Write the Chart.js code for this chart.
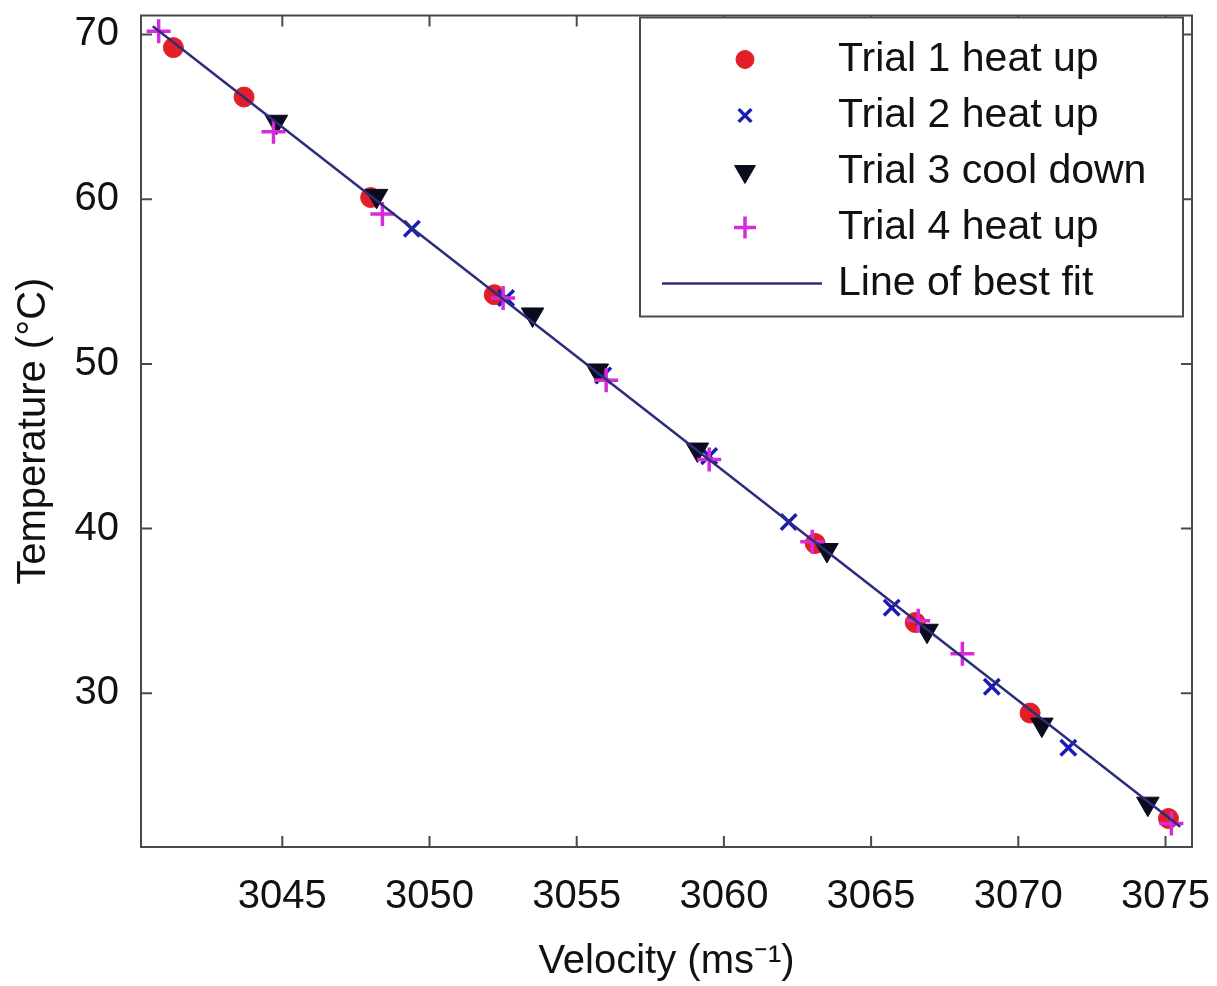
<!DOCTYPE html>
<html>
<head>
<meta charset="utf-8">
<title>Temperature vs velocity</title>
<script src="https://cdn.jsdelivr.net/npm/chart.js@4.4.1/dist/chart.umd.min.js"></script>
<style>
  body { margin: 0; background: #fff; }
  #wrap { position: relative; width: 1217px; height: 986px; }
</style>
</head>
<body>
<div id="wrap"><canvas id="my-chart" width="1217" height="986"></canvas></div>
<script>
'use strict';

// Data
let trial1Velocity = [3041.3, 3043.7, 3048.0, 3052.2, 3063.1, 3066.5, 3070.4, 3075.1];
let trial1Temp = [69.2, 66.2, 60.1, 54.2, 39.1, 34.3, 28.8, 22.4];

let trial2Velocity = [3049.4, 3052.6, 3055.9, 3059.5, 3062.2, 3065.7, 3069.1, 3071.7];
let trial2Temp = [58.2, 54.0, 49.3, 44.4, 40.4, 35.2, 30.4, 26.7];

let trial3Velocity = [3044.8, 3048.2, 3053.5, 3055.7, 3059.1, 3063.5, 3066.9, 3070.8, 3074.4];
let trial3Temp = [64.7, 60.2, 53.0, 49.6, 44.8, 38.7, 33.8, 28.1, 23.3];

let trial4Velocity = [3040.8, 3044.7, 3048.4, 3052.5, 3056.0, 3059.5, 3063.0, 3066.6, 3068.1, 3075.2];
let trial4Temp = [70.2, 64.1, 59.1, 54.0, 49.0, 44.2, 39.2, 34.4, 32.4, 22.1];

// line of best fit end points
let fitVelocity = [3040.6, 3075.5];
let fitTemp = [70.5, 21.9];

// axis ticks
let xTicks = [3045, 3050, 3055, 3060, 3065, 3070, 3075];
let yTicks = [30, 40, 50, 60, 70];

const FONT = 'Liberation Sans, Arial, Helvetica, sans-serif';
const AXIS_COLOR = '#4a4a4a';
const TEXT_COLOR = '#111111';

function toPoints(xs, ys) {
  let pts = [];
  for (let i = 0; i < xs.length; i++) {
    pts.push({x: xs[i], y: ys[i]});
  }
  return pts;
}

// no extra room for labels that hang past the plot box
function noPadding(scale) {
  scale.paddingTop = 0;
  scale.paddingBottom = 0;
  scale.paddingLeft = 0;
  scale.paddingRight = 0;
}

let ctx = document.getElementById('my-chart');

// datasets - lower order is drawn on top
let datasets = [
  {
    label: 'Trial 1 heat up',
    data: toPoints(trial1Velocity, trial1Temp),
    pointStyle: 'circle',
    pointRadius: 10,
    pointBackgroundColor: '#e21f26',
    pointBorderColor: '#e21f26',
    pointBorderWidth: 1,
    order: 4
  },
  {
    label: 'Trial 2 heat up',
    data: toPoints(trial2Velocity, trial2Temp),
    pointStyle: 'crossRot',
    pointRadius: 11,
    pointBorderColor: '#1c1cb4',
    pointBackgroundColor: '#1c1cb4',
    pointBorderWidth: 3.5,
    order: 3
  },
  {
    label: 'Trial 3 cool down',
    data: toPoints(trial3Velocity, trial3Temp),
    pointStyle: 'triangle',
    pointRotation: 180,
    pointRadius: 13,
    pointBackgroundColor: '#0b0b1e',
    pointBorderColor: '#0b0b1e',
    pointBorderWidth: 1,
    order: 2
  },
  {
    label: 'Trial 4 heat up',
    data: toPoints(trial4Velocity, trial4Temp),
    pointStyle: 'cross',
    pointRadius: 12,
    pointBorderColor: '#d52bd9',
    pointBackgroundColor: '#d52bd9',
    pointBorderWidth: 3.5,
    order: 1
  },
  {
    label: 'Line of best fit',
    data: toPoints(fitVelocity, fitTemp),
    showLine: true,
    borderColor: '#2d2d7d',
    borderWidth: 2.5,
    pointRadius: 0,
    order: 0
  }
];

// frame, inward tick marks and boxed legend (matlab style)
let frameAndLegend = {
  id: 'frameAndLegend',
  afterDatasetsDraw(chart) {
    let c = chart.ctx;
    let area = chart.chartArea;
    let xs = chart.scales.x;
    let ys = chart.scales.y;
    let tick = 11;

    c.save();
    c.strokeStyle = AXIS_COLOR;
    c.lineWidth = 2;
    c.strokeRect(area.left, area.top, area.right - area.left, area.bottom - area.top);

    c.beginPath();
    for (let i = 0; i < xTicks.length; i++) {
      let px = xs.getPixelForValue(xTicks[i]);
      c.moveTo(px, area.bottom);
      c.lineTo(px, area.bottom - tick);
      c.moveTo(px, area.top);
      c.lineTo(px, area.top + tick);
    }
    for (let i = 0; i < yTicks.length; i++) {
      let py = ys.getPixelForValue(yTicks[i]);
      c.moveTo(area.left, py);
      c.lineTo(area.left + tick, py);
      c.moveTo(area.right, py);
      c.lineTo(area.right - tick, py);
    }
    c.stroke();
    c.restore();
  },
  afterDraw(chart) {
    let c = chart.ctx;
    let area = chart.chartArea;
    let left = area.right - 552;
    let top = area.top + 2;
    let right = area.right - 9;
    let bottom = area.top + 301;
    let rowTop = top + 42;
    let rowGap = 56;
    let markerX = left + 105;
    let textX = left + 198;

    c.save();
    c.fillStyle = '#ffffff';
    c.fillRect(left, top, right - left, bottom - top);
    c.strokeStyle = AXIS_COLOR;
    c.lineWidth = 2;
    c.strokeRect(left, top, right - left, bottom - top);

    let sets = chart.data.datasets;
    for (let i = 0; i < sets.length; i++) {
      let ds = sets[i];
      let y = rowTop + i * rowGap;
      if (ds.showLine) {
        c.strokeStyle = ds.borderColor;
        c.lineWidth = ds.borderWidth;
        c.beginPath();
        c.moveTo(left + 22, y);
        c.lineTo(left + 182, y);
        c.stroke();
      } else {
        c.fillStyle = ds.pointBackgroundColor;
        c.strokeStyle = ds.pointBorderColor;
        c.lineWidth = ds.pointBorderWidth;
        Chart.helpers.drawPoint(c, {
          pointStyle: ds.pointStyle,
          rotation: ds.pointRotation || 0,
          radius: ds.pointStyle === 'crossRot' ? 9 : ds.pointRadius - 1,
          borderWidth: ds.pointBorderWidth
        }, markerX, y);
      }
      c.fillStyle = TEXT_COLOR;
      c.font = '41px ' + FONT;
      c.textBaseline = 'middle';
      c.textAlign = 'left';
      c.fillText(ds.label, textX, y);
    }
    c.restore();
  }
};

let chartObject = {
  type: 'scatter',
  data: { datasets: datasets },
  options: {
    responsive: false,
    animation: false,
    layout: { padding: { top: 14, right: 25, left: 0, bottom: 0 } },
    plugins: {
      legend: { display: false },
      tooltip: { enabled: false }
    },
    scales: {
      x: {
        type: 'linear',
        position: 'bottom',
        min: 3040.2,
        max: 3075.9,
        afterBuildTicks: function(scale) {
          scale.ticks = xTicks.map(v => ({ value: v }));
        },
        afterFit: function(scale) {
          scale.height = 139;
          noPadding(scale);
        },
        ticks: {
          font: { size: 40, family: FONT },
          color: TEXT_COLOR,
          padding: 26,
          maxRotation: 0,
          autoSkip: false,
          callback: v => String(v)
        },
        grid: { display: false, drawTicks: false },
        border: { display: true, color: AXIS_COLOR, width: 2 },
        title: {
          display: true,
          text: 'Velocity (ms\u207B\u00B9)',
          font: { size: 40, family: FONT },
          color: TEXT_COLOR,
          padding: { top: 0, bottom: 0 }
        }
      },
      y: {
        type: 'linear',
        position: 'left',
        min: 20.67,
        max: 71.15,
        afterBuildTicks: function(scale) {
          scale.ticks = yTicks.map(v => ({ value: v }));
        },
        afterFit: function(scale) {
          scale.width = 141;
          noPadding(scale);
        },
        ticks: {
          font: { size: 40, family: FONT },
          color: TEXT_COLOR,
          padding: 22,
          callback: v => String(v)
        },
        grid: { display: false, drawTicks: false },
        border: { display: true, color: AXIS_COLOR, width: 2 },
        title: {
          display: true,
          text: 'Temperature (\u00B0C)',
          font: { size: 40, family: FONT },
          color: TEXT_COLOR,
          padding: { top: 10, bottom: 0 }
        }
      }
    }
  },
  plugins: [frameAndLegend]
};

const myChart = new Chart(ctx, chartObject);
</script>
</body>
</html>
